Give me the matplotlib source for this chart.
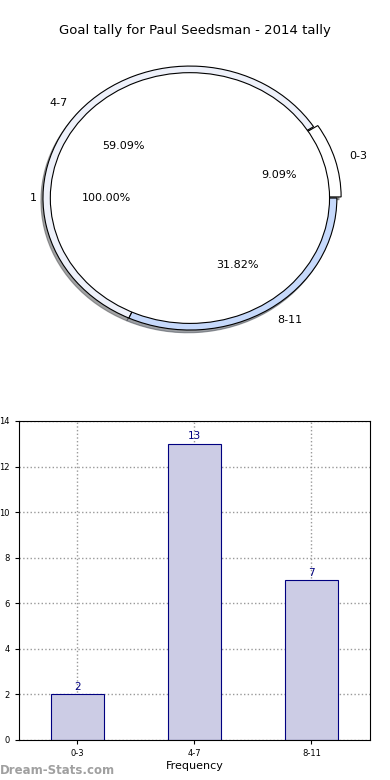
import matplotlib
matplotlib.use("Agg")
import matplotlib.pyplot as plt

groups = ["0-3", "4-7", "8-11"]
tally = [2, 13, 7]
inner_labels = ["1"]
inner_values = [22]
ring_colors = ["#ffffff", "#eef1fa", "#c6d9fb"]
yticks = [0, 2, 4, 6, 8, 10, 12, 14]

fig = plt.figure(figsize=(3.9, 7.8), dpi=100)

# pie on top, stretched like the old non-equal aspect pies
ax1 = fig.add_axes([0.016, 0.5346, 0.942, 0.423])
ax1.pie(tally, labels=groups, colors=ring_colors, explode=[0.03, 0, 0],
        autopct="%.2f%%", pctdistance=0.6, labeldistance=1.1,
        startangle=0, shadow=dict(ox=-0.01, oy=-0.015, alpha=0.5),
        radius=1.0,
        wedgeprops=dict(edgecolor="black", linewidth=0.8),
        textprops=dict(fontsize=8))
# inner single-slice pie laid over the ring
ax1.pie(inner_values, labels=inner_labels, colors=["white"],
        autopct="%.2f%%", pctdistance=0.6, labeldistance=1.1,
        startangle=0, radius=0.95,
        wedgeprops=dict(edgecolor="black", linewidth=0.8),
        textprops=dict(fontsize=8))
ax1.set_aspect("auto")
ax1.set_xlim(-1.25, 1.25)
ax1.set_ylim(-1.25, 1.25)
fig.text(0.5, 0.961, "Goal tally for Paul Seedsman - 2014 tally",
         ha="center", va="center", fontsize=9.5)

# bar chart below
ax2 = fig.add_axes([0.0487, 0.0513, 0.9, 0.409])
x = range(len(groups))
bars = ax2.bar(x, tally, width=0.45, color="#ccccE5", edgecolor="navy",
               linewidth=0.8, zorder=2)
for b, v in zip(bars, tally):
    ax2.text(b.get_x() + b.get_width() / 2, v + 0.1, str(v),
             ha="center", va="bottom", fontsize=7.5, color="navy")
ax2.set_xlim(-0.5, 2.5)
ax2.set_ylim(0, 14)
ax2.set_yticks(yticks)
ax2.set_xticks(list(x))
ax2.set_xticklabels(groups)
ax2.tick_params(labelsize=6, length=3)
ax2.grid(True, linestyle=":", color="#999999", linewidth=1, zorder=0)
ax2.set_axisbelow(True)
ax2.set_xlabel("Frequency", fontsize=8, labelpad=2)
ax2.set_ylabel("Goal Tally", fontsize=8, labelpad=3)

fig.text(0.0, 0.012, "Dream-Stats.com", ha="left", va="center",
         fontsize=8.5, color="#a0a0a0", fontweight="bold")

fig.savefig("out.png", dpi=100)
